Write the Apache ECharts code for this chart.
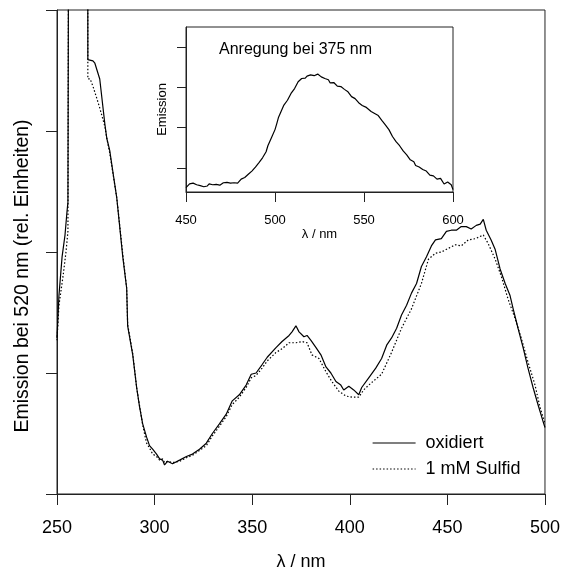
<!DOCTYPE html>
<html>
<head>
<meta charset="utf-8">
<script src="https://cdn.jsdelivr.net/npm/echarts@6/dist/echarts.min.js"></script>
<style>html,body{margin:0;padding:0;background:#fff}#c{width:563px;height:576px}</style>
</head>
<body>
<div id="c"></div>
<script>
// Main chart: excitation spectra (emission at 520 nm), relative units
var oxWl = [250.0,251.0,252.6,254.1,255.1,255.6,256.1,265.7,265.8,268.4,269.4,271.9,274.5,275.5,277.0,280.6,283.7,285.7,286.2,288.8,290.8,292.3,293.9,295.9,297.4,299.0,301.0,302.6,304.1,305.1,306.6,309.2,312.8,316.3,319.4,323.0,326.5,329.6,333.2,336.7,339.8,343.4,346.9,349.5,352.0,355.1,357.7,362.2,365.3,368.9,370.4,372.4,374.0,376.5,378.1,380.1,382.7,385.2,387.8,390.3,392.9,395.4,396.9,399.5,402.0,404.6,406.1,409.7,413.3,416.3,418.9,421.4,424.0,426.5,429.1,431.6,434.2,436.7,439.3,441.8,443.9,446.9,449.5,452.0,454.6,457.1,459.7,462.2,464.8,466.8,468.4,469.9,472.4,474.5,477.0,479.6,482.1,483.7,486.2,488.8,491.3,493.9,496.4,499.0,500.0];
var oxVal = [1.29,1.64,1.96,2.14,2.33,2.41,6.0,6.0,3.59,3.58,3.56,3.43,3.06,2.94,2.84,2.45,1.96,1.70,1.39,1.15,0.88,0.72,0.58,0.47,0.40,0.37,0.33,0.29,0.28,0.24,0.27,0.25,0.28,0.31,0.33,0.37,0.42,0.50,0.58,0.66,0.77,0.82,0.90,0.99,1.00,1.07,1.13,1.21,1.26,1.31,1.34,1.39,1.34,1.30,1.31,1.27,1.21,1.15,1.05,1.00,0.93,0.90,0.86,0.89,0.86,0.82,0.88,0.96,1.04,1.12,1.23,1.29,1.37,1.48,1.56,1.66,1.74,1.88,1.96,2.05,2.10,2.11,2.17,2.18,2.18,2.21,2.21,2.19,2.22,2.23,2.27,2.18,2.10,2.02,1.86,1.74,1.64,1.53,1.37,1.21,1.04,0.88,0.74,0.60,0.55];
var suWl = [250.0,251.0,253.1,254.6,255.6,256.1,265.7,265.8,267.0,268.4,270.4,271.9,274.5,275.5,277.0,280.6,283.7,285.7,286.2,288.8,290.8,292.3,293.9,295.9,297.4,299.0,301.0,302.6,304.1,305.1,306.6,309.2,312.8,316.3,319.4,323.0,326.5,329.6,333.2,336.7,339.8,343.4,346.9,349.5,352.0,355.1,357.7,362.2,365.3,368.9,372.4,375.5,378.1,380.6,384.2,387.8,390.8,394.4,398.0,401.1,404.6,407.1,409.7,416.3,421.4,426.5,431.6,436.7,440.3,443.9,446.9,450.5,454.1,457.1,460.7,464.3,468.4,470.9,474.5,477.6,481.1,484.7,487.8,491.3,494.9,497.4,500.0];
var suVal = [1.27,1.56,1.80,2.00,2.17,6.0,6.0,3.43,3.43,3.37,3.27,3.19,3.04,2.94,2.82,2.45,1.98,1.70,1.40,1.16,0.88,0.73,0.57,0.42,0.38,0.33,0.31,0.28,0.29,0.26,0.27,0.26,0.27,0.30,0.32,0.36,0.40,0.48,0.56,0.64,0.74,0.80,0.88,0.96,0.98,1.04,1.10,1.17,1.20,1.25,1.25,1.26,1.25,1.15,1.12,1.01,0.93,0.85,0.81,0.80,0.80,0.86,0.90,0.99,1.17,1.37,1.53,1.74,1.94,1.99,2.00,2.03,2.06,2.05,2.10,2.11,2.14,2.07,1.94,1.80,1.61,1.45,1.29,1.09,0.90,0.72,0.58];
var mainXTicks = [250, 300, 350, 400, 450, 500];

// Inset: emission spectrum, excitation at 375 nm
var inWl = [450,452,454,456,458,460,462,463,465,467,469,471,473,475,477,479,481,483,485,487,489,491,493,495,496,498,500,501,502,503,505,507,509,511,513,515,517,518,520,522,524,526,528,530,531,533,535,537,539,541,543,545,547,549,551,552,554,556,558,560,562,564,566,568,570,572,574,576,578,579,581,583,585,587,589,591,593,595,597,599,600];
var inVal = [0.51,0.60,0.62,0.58,0.56,0.53,0.55,0.60,0.58,0.59,0.57,0.63,0.64,0.62,0.63,0.62,0.72,0.76,0.84,0.92,1.02,1.13,1.25,1.40,1.55,1.75,1.95,2.10,2.26,2.22,2.56,2.68,2.85,2.97,3.14,3.22,3.23,3.28,3.31,3.29,3.33,3.26,3.22,3.19,3.11,3.12,3.03,3.02,2.95,2.89,2.77,2.72,2.62,2.55,2.51,2.55,2.40,2.35,2.30,2.18,2.07,1.95,1.78,1.65,1.55,1.42,1.32,1.20,1.15,1.06,1.02,0.96,0.92,0.82,0.80,0.72,0.74,0.60,0.65,0.58,0.46];
var inYTicks = [1, 2, 3, 4];

var seriesNames = ['oxidiert', '1 mM Sulfid'];

function pairs(xs, ys) { return xs.map(function (x, i) { return [x, ys[i]]; }); }

var FONT = 'Liberation Sans, Arial, sans-serif';
var AX = '#222';
var chart = echarts.init(document.getElementById('c'), null, {renderer: 'canvas'});
chart.setOption({
  animation: false,
  backgroundColor: '#fff',
  textStyle: {fontFamily: FONT, color: '#000'},
  grid: [
    {left: 57, top: 10, width: 490, height: 491, show: true, borderColor: AX, borderWidth: 1, backgroundColor: 'transparent'},
    {left: 186, top: 27, width: 267, height: 165, show: true, borderColor: AX, borderWidth: 1, backgroundColor: '#fff'}
  ],
  xAxis: [
    {type: 'value', gridIndex: 0, min: mainXTicks[0], max: mainXTicks[mainXTicks.length - 1], interval: 50,
     axisLine: {onZero: false, lineStyle: {color: AX, width: 1}},
     axisTick: {length: 11, lineStyle: {color: AX}},
     axisLabel: {fontSize: 18, margin: 25, color: '#000', fontFamily: FONT},
     splitLine: {show: false},
     name: 'λ / nm', nameLocation: 'middle', nameGap: 59,
     nameTextStyle: {fontSize: 18, color: '#000', fontFamily: FONT}},
    {type: 'value', gridIndex: 1, min: 450, max: 600, interval: 50,
     axisLine: {onZero: false, lineStyle: {color: AX, width: 1}},
     axisTick: {length: 10, lineStyle: {color: AX}},
     axisLabel: {fontSize: 13, margin: 22, color: '#000', fontFamily: FONT},
     splitLine: {show: false},
     name: 'λ / nm', nameLocation: 'middle', nameGap: 36,
     nameTextStyle: {fontSize: 13, color: '#000', fontFamily: FONT}}
  ],
  yAxis: [
    {type: 'value', gridIndex: 0, min: 0, max: 4, interval: 1,
     axisLine: {show: true, onZero: false, lineStyle: {color: AX, width: 1}},
     axisTick: {show: true, length: 11, lineStyle: {color: AX}},
     axisLabel: {show: false},
     splitLine: {show: false}},
    {type: 'value', gridIndex: 1, min: 0.4, max: 4.5,
     axisLine: {show: true, onZero: false, lineStyle: {color: AX, width: 1}},
     axisTick: {show: true, length: 9, customValues: inYTicks, lineStyle: {color: AX}},
     axisLabel: {show: false, customValues: inYTicks},
     splitLine: {show: false},
     name: 'Emission', nameLocation: 'middle', nameGap: 17,
     nameTextStyle: {fontSize: 13, color: '#000', fontFamily: FONT}}
  ],
  legend: {
    data: seriesNames, orient: 'vertical', left: 372, top: 434, padding: 0,
    itemWidth: 43, itemHeight: 12, itemGap: 8,
    itemStyle: {opacity: 0},
    lineStyle: {width: 1.2},
    textStyle: {fontSize: 18, color: '#000', fontFamily: FONT, padding: [0, 0, 0, 5]}
  },
  graphic: [
    {type: 'text', x: 23, y: 276, rotation: Math.PI / 2,
     style: {text: 'Emission bei 520 nm (rel. Einheiten)', fontSize: 19.5, fontFamily: FONT, fill: '#000', textAlign: 'center', textVerticalAlign: 'middle'}},
    {type: 'text', x: 219, y: 50,
     style: {text: 'Anregung bei 375 nm', fontSize: 16, fontFamily: FONT, fill: '#000', textAlign: 'left', textVerticalAlign: 'middle'}}
  ],
  series: [
    {name: seriesNames[0], type: 'line', xAxisIndex: 0, yAxisIndex: 0, symbol: 'none', z: 3,
     lineStyle: {color: '#000', width: 1.2, type: 'solid'}, itemStyle: {color: '#000'},
     data: pairs(oxWl, oxVal)},
    {name: seriesNames[1], type: 'line', xAxisIndex: 0, yAxisIndex: 0, symbol: 'none', z: 2,
     lineStyle: {color: '#000', width: 1.2, type: [1.5, 2]}, itemStyle: {color: '#000'},
     data: pairs(suWl, suVal)},
    {name: 'inset', type: 'line', xAxisIndex: 1, yAxisIndex: 1, symbol: 'none', z: 3,
     lineStyle: {color: '#000', width: 1.2}, itemStyle: {color: '#000'},
     data: pairs(inWl, inVal)}
  ]
});
</script>
</body>
</html>
